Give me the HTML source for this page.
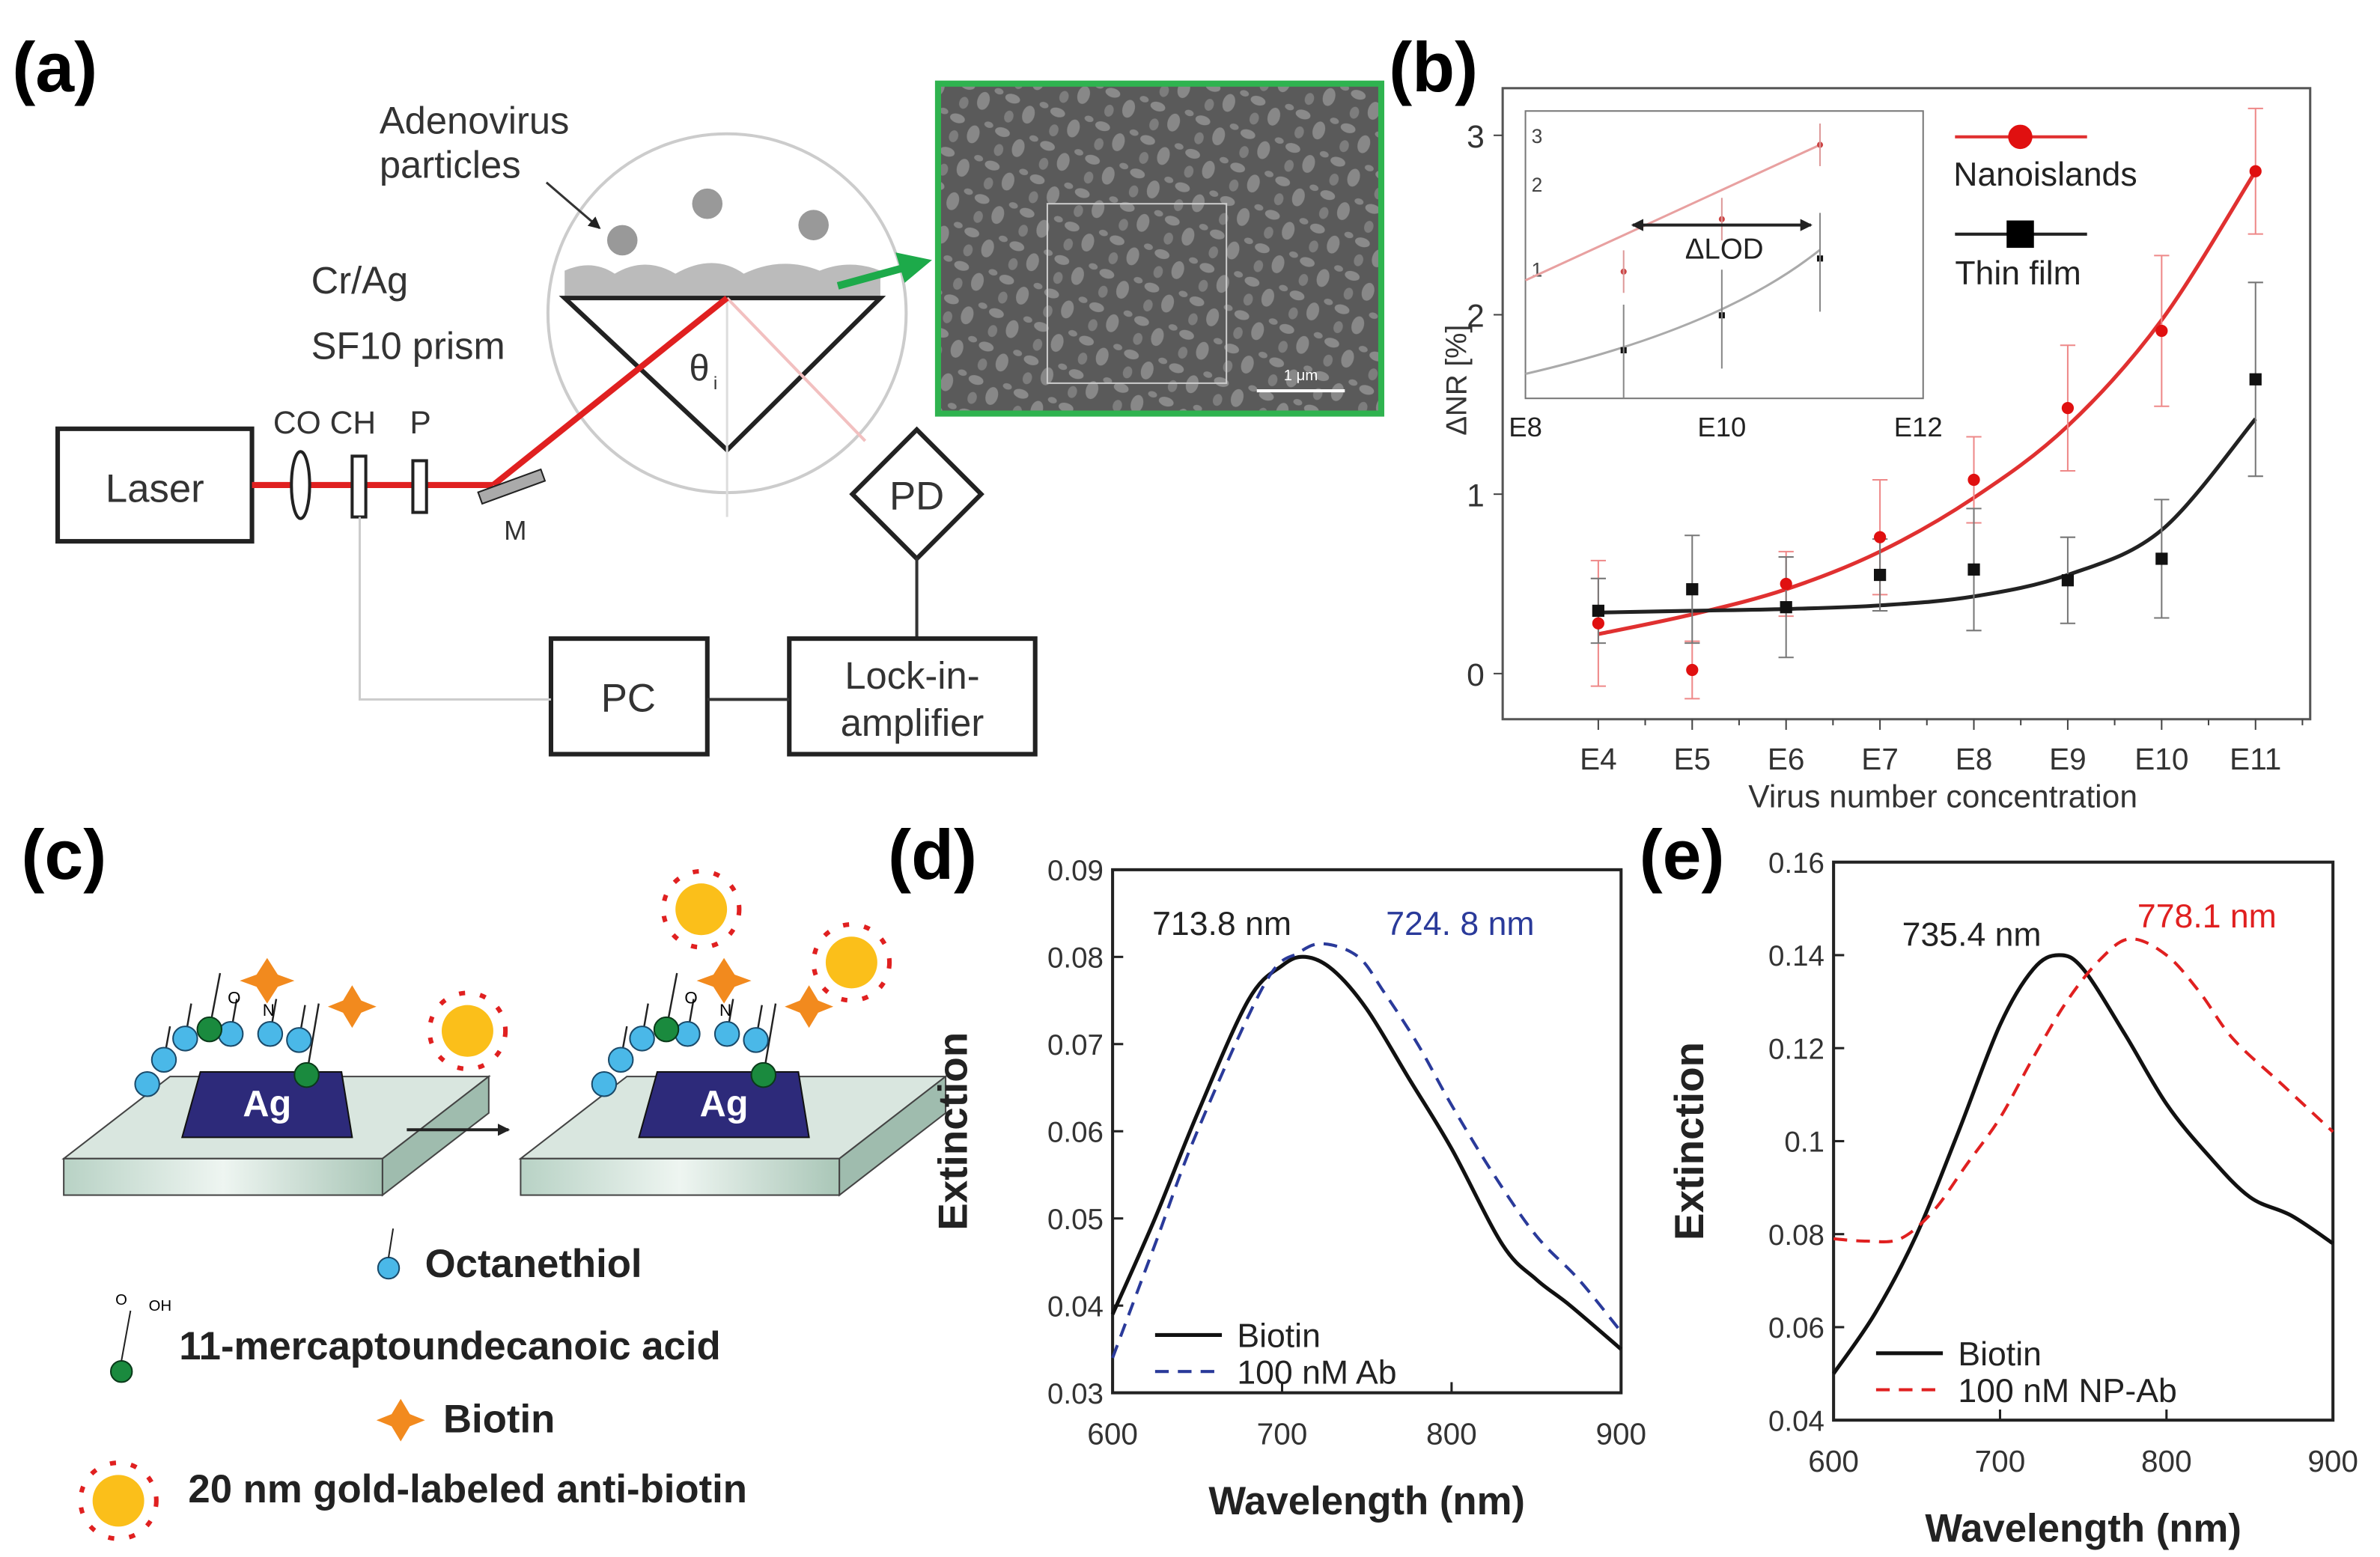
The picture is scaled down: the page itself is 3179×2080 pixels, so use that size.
<!DOCTYPE html>
<html><head><meta charset="utf-8"><style>
html,body{margin:0;padding:0;background:#fff;}
svg{display:block;font-family:"Liberation Sans",Arial,sans-serif;}
</style></head><body>
<svg id="fig" width="3179" height="2080" viewBox="0 0 1568 1024" preserveAspectRatio="none" xmlns="http://www.w3.org/2000/svg">
<defs>
<pattern id="sem" width="31" height="23" patternUnits="userSpaceOnUse" patternTransform="rotate(17)">
<rect width="31" height="23" fill="#5a5a5a"/>
<ellipse cx="6" cy="5" rx="5" ry="3" fill="#8a8a8a"/>
<ellipse cx="19" cy="12" rx="4" ry="6" fill="#888"/>
<ellipse cx="7" cy="17" rx="3" ry="4" fill="#7d7d7d"/>
<ellipse cx="27" cy="3" rx="3" ry="2" fill="#858585"/>
</pattern>
<linearGradient id="glass" x1="0" x2="1"><stop offset="0" stop-color="#b8d2c5"/><stop offset="0.5" stop-color="#eef5f1"/><stop offset="1" stop-color="#a9c6b7"/></linearGradient>
<marker id="arr" markerWidth="8" markerHeight="8" refX="7" refY="4" orient="auto" markerUnits="userSpaceOnUse"><path d="M0,0 L8,4 L0,8 z" fill="#222"/></marker>
<marker id="arrS" markerWidth="8" markerHeight="8" refX="1" refY="4" orient="auto" markerUnits="userSpaceOnUse"><path d="M8,0 L0,4 L8,8 z" fill="#222"/></marker>
</defs>

<text x="8" y="60" font-size="46" font-weight="bold">(a)</text>
<text x="915" y="60" font-size="46" font-weight="bold">(b)</text>
<text x="14" y="578" font-size="46" font-weight="bold">(c)</text>
<text x="585" y="578" font-size="46" font-weight="bold">(d)</text>
<text x="1080" y="578" font-size="46" font-weight="bold">(e)</text>

<g>
<circle cx="479" cy="206" r="118" fill="none" stroke="#ccc" stroke-width="2"/>
<text x="250" y="88" font-size="25" fill="#333">Adenovirus</text>
<text x="250" y="117" font-size="25" fill="#333">particles</text>
<line x1="360" y1="120" x2="395" y2="150" stroke="#333" stroke-width="1.5" marker-end="url(#arr)"/>
<circle cx="410" cy="158" r="10" fill="#999"/><circle cx="466" cy="134" r="10" fill="#999"/><circle cx="536" cy="148" r="10" fill="#999"/>
<path d="M372,195 L372,178 Q390,170 405,180 Q425,168 445,180 Q470,166 490,180 Q515,168 540,178 Q560,170 580,178 L580,195 z" fill="#bbb"/>
<path d="M372,196 L580,196 L479,296 z" fill="none" stroke="#222" stroke-width="3"/>
<text x="454" y="250" font-size="24" fill="#333">θ</text><text x="470" y="256" font-size="12" fill="#333">i</text>
<line x1="479" y1="196" x2="479" y2="340" stroke="#ddd" stroke-width="1.5"/>
<line x1="479" y1="196" x2="570" y2="290" stroke="#f2c0c0" stroke-width="2"/>
<text x="205" y="193" font-size="25" fill="#333">Cr/Ag</text>
<text x="205" y="236" font-size="25" fill="#333">SF10 prism</text>
<rect x="38" y="282" width="128" height="74" fill="#fff" stroke="#222" stroke-width="3"/>
<text x="102" y="330" font-size="26" text-anchor="middle" fill="#333">Laser</text>
<line x1="166" y1="319" x2="325" y2="319" stroke="#e02020" stroke-width="4"/>
<line x1="325" y1="319" x2="479" y2="196" stroke="#e02020" stroke-width="4"/>
<ellipse cx="198" cy="319" rx="6" ry="22" fill="#fff" stroke="#222" stroke-width="2"/>
<rect x="232" y="300" width="9" height="40" fill="#fff" stroke="#222" stroke-width="2"/>
<rect x="272" y="303" width="9" height="34" fill="#fff" stroke="#222" stroke-width="2"/>
<rect x="315" y="316" width="44" height="8" transform="rotate(-20 337 320)" fill="#aaa" stroke="#222"/>
<text x="180" y="285" font-size="21" fill="#333">CO CH</text><text x="270" y="285" font-size="21" fill="#333">P</text>
<text x="332" y="355" font-size="18" fill="#333">M</text>
<rect x="574" y="295" width="60" height="60" transform="rotate(45 604 325)" fill="#fff" stroke="#222" stroke-width="3"/>
<text x="604" y="335" font-size="26" text-anchor="middle" fill="#333">PD</text>
<line x1="604" y1="367" x2="604" y2="420" stroke="#333" stroke-width="2"/>
<rect x="363" y="420" width="103" height="76" fill="#fff" stroke="#222" stroke-width="3"/>
<text x="414" y="468" font-size="26" text-anchor="middle" fill="#333">PC</text>
<rect x="520" y="420" width="162" height="76" fill="#fff" stroke="#222" stroke-width="3"/>
<text x="601" y="453" font-size="25" text-anchor="middle" fill="#333">Lock-in-</text>
<text x="601" y="484" font-size="25" text-anchor="middle" fill="#333">amplifier</text>
<line x1="466" y1="460" x2="520" y2="460" stroke="#333" stroke-width="2"/>
<polyline points="237,340 237,460 363,460" fill="none" stroke="#ccc" stroke-width="1.5"/>
<line x1="552" y1="188" x2="596" y2="176" stroke="#1daa4a" stroke-width="5"/>
<polygon points="614,171 590,166 596,186" fill="#1daa4a"/>
<rect x="618" y="55" width="292" height="217" fill="url(#sem)" stroke="#2fb34f" stroke-width="4"/>
<rect x="690" y="134" width="118" height="118" fill="none" stroke="#ccc" stroke-width="1"/>
<line x1="828" y1="257" x2="886" y2="257" stroke="#fff" stroke-width="2"/>
<text x="857" y="250" font-size="10" fill="#fff" text-anchor="middle">1 μm</text>
</g>

<g>
<g id="slab1">
<path d="M42,762 L112,708 L322,708 L252,762 z" fill="#d9e6df" stroke="#444"/>
<rect x="42" y="762" width="210" height="24" fill="url(#glass)" stroke="#444"/>
<path d="M252,762 L322,708 L322,732 L252,786 z" fill="#9fbcae" stroke="#444"/>
<path d="M120,748 L132,705 L225,705 L232,748 z" fill="#2d2a7a" stroke="#111"/>
<text x="176" y="734" font-size="24" font-weight="bold" fill="#fff" text-anchor="middle">Ag</text>
<g stroke="#222" stroke-width="1.2"><line x1="108" y1="697" x2="112" y2="675"/><line x1="122" y1="683" x2="126" y2="660"/><line x1="152" y1="680" x2="156" y2="657"/><line x1="178" y1="680" x2="182" y2="657"/><line x1="197" y1="684" x2="201" y2="661"/><line x1="138" y1="677" x2="145" y2="640"/><line x1="202" y1="707" x2="210" y2="660"/></g>
<g fill="#4ab8e8" stroke="#1a4a6a"><circle cx="97" cy="713" r="8"/><circle cx="108" cy="697" r="8"/><circle cx="122" cy="683" r="8"/><circle cx="152" cy="680" r="8"/><circle cx="178" cy="680" r="8"/><circle cx="197" cy="684" r="8"/></g>
<g fill="#1a8a3e" stroke="#0a3a1a"><circle cx="138" cy="677" r="8"/><circle cx="202" cy="707" r="8"/></g>
<text x="150" y="660" font-size="11">O</text><text x="173" y="668" font-size="11">N</text>
<path d="M176,630 l7,11 l11,4 l-11,4 l-7,11 l-7,-11 l-11,-4 l11,-4z" fill="#f28a1e"/>
<path d="M232,648 l6,10 l10,4 l-10,4 l-6,10 l-6,-10 l-10,-4 l10,-4z" fill="#f28a1e"/>
</g>
<use href="#slab1" x="301" y="0"/>
<line x1="268" y1="743" x2="335" y2="743" stroke="#222" stroke-width="2" marker-end="url(#arr)"/>
<g fill="#fbbf1a"><circle cx="308" cy="678" r="17"/><circle cx="462" cy="598" r="17"/><circle cx="561" cy="633" r="17"/><circle cx="78" cy="987" r="17"/></g>
<g stroke="#e02020" stroke-width="3" fill="none"><circle cx="308" cy="678" r="25" stroke-dasharray="4 10"/><circle cx="462" cy="598" r="25" stroke-dasharray="4 10"/><circle cx="561" cy="633" r="25" stroke-dasharray="4 10"/><circle cx="78" cy="987" r="25" stroke-dasharray="4 10"/></g>
<circle cx="256" cy="834" r="7" fill="#4ab8e8" stroke="#1a4a6a"/><line x1="256" y1="827" x2="259" y2="808" stroke="#222"/>
<text x="280" y="840" font-size="26" font-weight="bold" fill="#222">Octanethiol</text>
<circle cx="80" cy="902" r="7" fill="#1a8a3e" stroke="#0a3a1a"/><line x1="80" y1="895" x2="86" y2="862" stroke="#222"/>
<text x="76" y="858" font-size="10">O</text><text x="98" y="862" font-size="10">OH</text>
<text x="118" y="894" font-size="26" font-weight="bold" fill="#222">11-mercaptoundecanoic acid</text>
<path d="M264,920 l6,10 l10,4 l-10,4 l-6,10 l-6,-10 l-10,-4 l10,-4z" fill="#f28a1e"/>
<text x="292" y="942" font-size="26" font-weight="bold" fill="#222">Biotin</text>
<text x="124" y="988" font-size="26" font-weight="bold" fill="#222">20 nm gold-labeled anti-biotin</text>
</g>

<g id="plotB"></g>
<g id="plotD"></g>
<g id="plotE"></g>
</svg>
<script>
const bCats = ["E4","E5","E6","E7","E8","E9","E10","E11"];
const bRed = [0.28,0.02,0.50,0.76,1.08,1.48,1.91,2.80];
const bRedErr = [0.35,0.16,0.18,0.32,0.24,0.35,0.42,0.35];
const bBlack = [0.35,0.47,0.37,0.55,0.58,0.52,0.64,1.64];
const bBlackErr = [0.18,0.30,0.28,0.20,0.34,0.24,0.33,0.54];
const bRedFit = [0.22,0.33,0.47,0.68,0.98,1.38,1.97,2.80];
const bBlackFit = [0.34,0.35,0.36,0.38,0.43,0.55,0.80,1.42];
const bYTicks = [0,1,2,3];
const inCatsX = [9,10,11];
const inRed = [1.45,2.05,2.9];
const inBlack = [0.55,0.95,1.6];
const inXTicks = [8,10,12];
const dX = [600,625,650,680,700,713.8,730,750,775,800,830,850,870,900];
const dBiotin = [0.039,0.050,0.062,0.075,0.0790,0.080,0.0785,0.074,0.066,0.058,0.047,0.043,0.040,0.035];
const dAbX = [600,625,650,690,710,724.8,745,760,780,800,825,850,875,900];
const dAb = [0.034,0.047,0.060,0.077,0.0805,0.0815,0.0800,0.076,0.070,0.063,0.055,0.048,0.043,0.037];
const dYTicks = [0.03,0.04,0.05,0.06,0.07,0.08,0.09];
const xTicksDE = [600,700,800,900];
const eX = [600,625,650,675,700,720,735.4,750,775,800,825,850,875,900];
const eBiotin = [0.050,0.063,0.080,0.102,0.125,0.137,0.140,0.137,0.123,0.108,0.097,0.088,0.084,0.078];
const eAbX = [600,620,640,660,680,700,720,740,760,778.1,800,820,840,870,900];
const eAb = [0.079,0.0785,0.079,0.085,0.095,0.105,0.118,0.130,0.139,0.1435,0.140,0.132,0.122,0.112,0.102];
const eYTicks = [0.04,0.06,0.08,0.1,0.12,0.14,0.16];

const NS="http://www.w3.org/2000/svg";
function mk(parent,tag,attrs){const e=document.createElementNS(NS,tag);for(const k in attrs)e.setAttribute(k,attrs[k]);parent.appendChild(e);return e;}
function smooth(pts){let d="M"+pts[0][0]+","+pts[0][1];for(let i=0;i<pts.length-1;i++){const p0=pts[Math.max(0,i-1)],p1=pts[i],p2=pts[i+1],p3=pts[Math.min(pts.length-1,i+2)];const c1=[p1[0]+(p2[0]-p0[0])/6,p1[1]+(p2[1]-p0[1])/6],c2=[p2[0]-(p3[0]-p1[0])/6,p2[1]-(p3[1]-p1[1])/6];d+=" C"+c1+" "+c2+" "+p2;}return d;}

(function(){
const g=document.getElementById('plotB');
const L=990,R=1522,T=58,B=473;
const xS=i=>1053+i*(1486-1053)/7;
const yS=v=>443-v*118;
const fr=mk(g,'rect',{x:L,y:T,width:R-L,height:B-T,fill:'none',stroke:'#555','stroke-width':1.5});


bYTicks.forEach(v=>{mk(g,'line',{x1:L-6,x2:L,y1:yS(v),y2:yS(v),stroke:'#444'});
const t=mk(g,'text',{x:L-12,y:yS(v)+8,'font-size':21,'text-anchor':'end',fill:'#333'});t.textContent=v;

});
bCats.forEach((c,i)=>{mk(g,'line',{x1:xS(i),x2:xS(i),y1:B,y2:B+7,stroke:'#444'});
mk(g,'line',{x1:xS(i)+30.9,x2:xS(i)+30.9,y1:B,y2:B+4,stroke:'#444'});
const t=mk(g,'text',{x:xS(i),y:B+33,'font-size':20,'text-anchor':'middle',fill:'#333'});t.textContent=c;

});
const xt=mk(g,'text',{x:1280,y:531,'font-size':21,'text-anchor':'middle',fill:'#333'});xt.textContent="Virus number concentration";


const yt=mk(g,'text',{x:966,y:250,'font-size':19,'text-anchor':'middle',fill:'#333',transform:'rotate(-90 966 250)'});yt.textContent="ΔNR [%]";


const rf=mk(g,'path',{d:smooth(bRedFit.map((v,i)=>[xS(i),yS(v)])),fill:'none',stroke:'#e03030','stroke-width':2.5});


const kf=mk(g,'path',{d:smooth(bBlackFit.map((v,i)=>[xS(i),yS(v)])),fill:'none',stroke:'#222','stroke-width':2.5});


function errs(vals,errsA,col){vals.forEach((v,i)=>{const x=xS(i);mk(g,'line',{x1:x,x2:x,y1:yS(v-errsA[i]),y2:yS(v+errsA[i]),stroke:col,'stroke-width':1});
[v-errsA[i],v+errsA[i]].forEach(w=>mk(g,'line',{x1:x-5,x2:x+5,y1:yS(w),y2:yS(w),stroke:col,'stroke-width':1}));});}
errs(bRed,bRedErr,'#e88');errs(bBlack,bBlackErr,'#777');
bRed.forEach((v,i)=>{const c=mk(g,'circle',{cx:xS(i),cy:yS(v),r:4,fill:'#e01010'});

});
bBlack.forEach((v,i)=>{const r=mk(g,'rect',{x:xS(i)-4,y:yS(v)-4,width:8,height:8,fill:'#111'});

});
mk(g,'line',{x1:1288,x2:1375,y1:90,y2:90,stroke:'#e03030','stroke-width':2});mk(g,'circle',{cx:1331,cy:90,r:8,fill:'#e01010'});
const l1=mk(g,'text',{x:1287,y:122,'font-size':22,fill:'#222'});l1.textContent="Nanoislands";


mk(g,'line',{x1:1288,x2:1375,y1:154,y2:154,stroke:'#222','stroke-width':2});mk(g,'rect',{x:1322,y:145,width:18,height:18,fill:'#000'});
const l2=mk(g,'text',{x:1288,y:187,'font-size':22,fill:'#222'});l2.textContent="Thin film";


const iL=1005,iR=1267,iT=73,iB=262;
const ix=v=>iL+(v-8)*(iR-iL)/4.05;
const inset=mk(g,'rect',{x:iL,y:iT,width:iR-iL,height:iB-iT,fill:'#fff',stroke:'#777','stroke-width':1});


const iyT=[[1,177],[2,121],[3,89]];
iyT.forEach(p=>{const t=mk(g,'text',{x:iL+4,y:p[1]+5,'font-size':13,fill:'#444'});t.textContent=p[0];});
inXTicks.forEach(v=>{const t=mk(g,'text',{x:ix(v),y:287,'font-size':18,'text-anchor':'middle',fill:'#222'});t.textContent="E"+v;});
const iyv=v=>262-(v)*57.5;
mk(g,'path',{d:"M"+iL+","+iyv(1.35)+" L"+ix(11)+","+iyv(2.9),stroke:'#e8a0a0','stroke-width':1.5,fill:'none'});
mk(g,'path',{d:"M"+iL+","+iyv(0.28)+" Q"+ix(10)+","+iyv(0.8)+" "+ix(11)+","+iyv(1.7),stroke:'#aaa','stroke-width':1.5,fill:'none'});
inCatsX.forEach((c,i)=>{mk(g,'circle',{cx:ix(c),cy:iyv(inRed[i]),r:2,fill:'#c44'});mk(g,'rect',{x:ix(c)-2,y:iyv(inBlack[i])-2,width:4,height:4,fill:'#111'});
mk(g,'line',{x1:ix(c),x2:ix(c),y1:iyv(inRed[i])-14,y2:iyv(inRed[i])+14,stroke:'#d99'});mk(g,'line',{x1:ix(c),x2:ix(c),y1:iyv(inBlack[i])-30,y2:Math.min(iB,iyv(inBlack[i])+35),stroke:'#888'});});
mk(g,'line',{x1:ix(9)+6,x2:ix(11)-6,y1:148,y2:148,stroke:'#222','stroke-width':2,'marker-end':'url(#arr)','marker-start':'url(#arrS)'});
const dl=mk(g,'text',{x:1136,y:170,'font-size':19,'text-anchor':'middle',fill:'#222'});dl.textContent="ΔLOD";


})();

function spectra(id,L,R,T,B,ymin,ymax,yTicks,fmt,s1x,s1,s2x,s2,col2,lab1,lab1x,lab2,lab2x,labY,leg2,legY,ytOff){
const g=document.getElementById(id);
const xS=v=>L+(v-600)*(R-L)/300;
const yS=v=>B-(v-ymin)*(B-T)/(ymax-ymin);
const fr=mk(g,'rect',{x:L,y:T,width:R-L,height:B-T,fill:'none',stroke:'#222','stroke-width':2});


yTicks.forEach(v=>{mk(g,'line',{x1:L,x2:L+7,y1:yS(v),y2:yS(v),stroke:'#222','stroke-width':1.5});
const t=mk(g,'text',{x:L-6,y:yS(v)+7,'font-size':19,'text-anchor':'end',fill:'#333'});t.textContent=fmt(v);

});
xTicksDE.forEach(v=>{mk(g,'line',{x1:xS(v),x2:xS(v),y1:B,y2:B-7,stroke:'#222','stroke-width':1.5});
const t=mk(g,'text',{x:xS(v),y:B+34,'font-size':20,'text-anchor':'middle',fill:'#333'});t.textContent=v;

});
const xt=mk(g,'text',{x:(L+R)/2,y:B+80,'font-size':26,'font-weight':'bold','text-anchor':'middle',fill:'#222'});xt.textContent="Wavelength (nm)";


const yx=L-ytOff,yy=(T+B)/2;
const yt=mk(g,'text',{x:yx,y:yy,'font-size':27,'font-weight':'bold','text-anchor':'middle',fill:'#222',transform:'rotate(-90 '+yx+' '+yy+')'});yt.textContent="Extinction";


const p1=mk(g,'path',{d:smooth(s1x.map((x,i)=>[xS(x),yS(s1[i])])),fill:'none',stroke:'#111','stroke-width':2.5});


const p2=mk(g,'path',{d:smooth(s2x.map((x,i)=>[xS(x),yS(s2[i])])),fill:'none',stroke:col2,'stroke-width':2,'stroke-dasharray':'9 6'});


const a1=mk(g,'text',{x:lab1x,y:labY,'font-size':22,'text-anchor':'middle',fill:'#222'});a1.textContent=lab1;


const a2=mk(g,'text',{x:lab2x,y:labY-(id==='plotE'?12:0),'font-size':22,'text-anchor':'middle',fill:col2});a2.textContent=lab2;


mk(g,'line',{x1:L+28,x2:L+72,y1:legY,y2:legY,stroke:'#111','stroke-width':2.5});
mk(g,'line',{x1:L+28,x2:L+72,y1:legY+24,y2:legY+24,stroke:col2,'stroke-width':2,'stroke-dasharray':'9 6'});
const e1=mk(g,'text',{x:L+82,y:legY+8,'font-size':22,fill:'#222'});e1.textContent="Biotin";


const e2=mk(g,'text',{x:L+82,y:legY+32,'font-size':22,fill:'#222'});e2.textContent=leg2;


}
spectra('plotD',733,1068,572,916,0.03,0.09,dYTicks,v=>v.toFixed(2),dX,dBiotin,dAbX,dAb,'#2a3a9a','713.8 nm',805,'724. 8 nm',962,615,'100 nM Ab',878,96);
spectra('plotE',1208,1537,567,934,0.04,0.16,eYTicks,v=>(Math.round(v*100)/100).toString(),eX,eBiotin,eAbX,eAb,'#e02020','735.4 nm',1299,'778.1 nm',1454,622,'100 nM NP-Ab',890,86);
</script>
</body></html>
